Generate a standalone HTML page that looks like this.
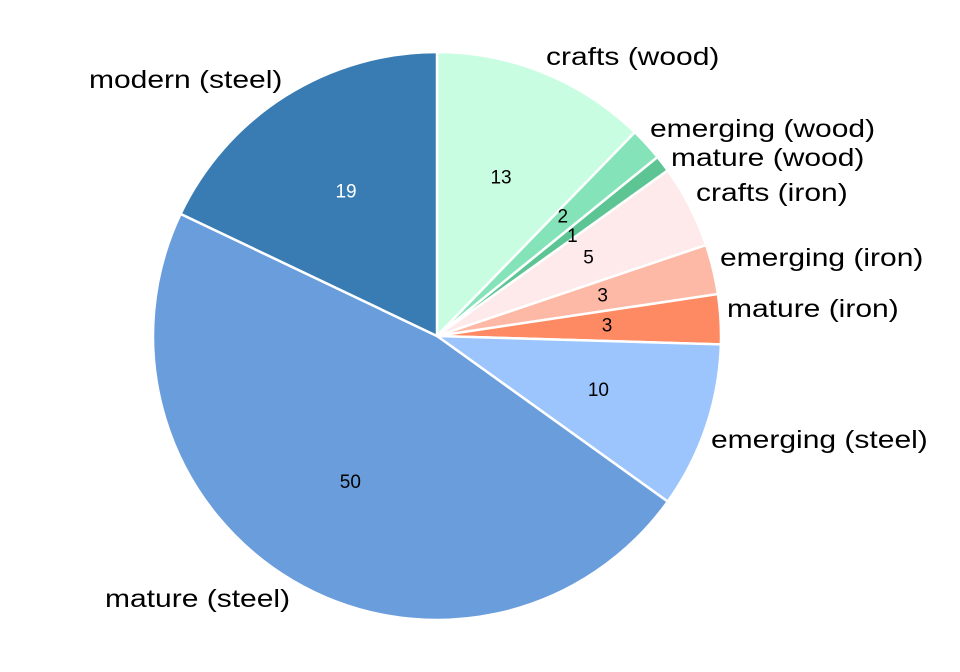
<!DOCTYPE html>
<html><head><meta charset="utf-8"><style>
html,body{margin:0;padding:0;background:#fff;}
svg{display:block;font-family:"Liberation Sans","DejaVu Sans",sans-serif;}
</style></head><body>
<svg id="chart" width="960" height="672" viewBox="0 0 960 672"></svg>
<script>
const categories = ["crafts (wood)","emerging (wood)","mature (wood)","crafts (iron)","emerging (iron)","mature (iron)","emerging (steel)","mature (steel)","modern (steel)"];
const values = [13,2,1,5,3,3,10,50,19];
const colors = ["#c8fde2","#84e3b8","#5cc593","#feeaea","#fdb8a6","#fd8a62","#9cc5fd","#699ddc","#387cb3"];
const labelTextColors = ["#000","#000","#000","#000","#000","#000","#000","#000","#fff"];
const outerLabelPos = [[546,57,"start"],[650,129,"start"],[671,158,"start"],[696,193,"start"],[720,258,"start"],[727,309,"start"],[711,440,"start"],[105,599,"start"],[89,80,"start"]];
const innerLabelOffsets = [[0,0],[0,-4],[0,4],[0,0],[0,0],[0,0],[0,0],[0,0],[0,0]];

const NS="http://www.w3.org/2000/svg";
const svg=document.getElementById("chart");
const cx=437, cy=336, R=284;
const total=values.reduce((a,b)=>a+b,0);
function pt(angle,r){return [cx+r*Math.sin(angle), cy-r*Math.cos(angle)];}
let cum=0;
values.forEach((v,i)=>{
  const a0=cum/total*2*Math.PI; cum+=v; const a1=cum/total*2*Math.PI;
  const p0=pt(a0,R), p1=pt(a1,R);
  const large=(a1-a0)>Math.PI?1:0;
  const path=document.createElementNS(NS,"path");
  path.setAttribute("d",`M${cx},${cy} L${p0[0]},${p0[1]} A${R},${R} 0 ${large} 1 ${p1[0]},${p1[1]} Z`);
  path.setAttribute("fill",colors[i]);
  path.setAttribute("stroke","#fff");
  path.setAttribute("stroke-width","2.5");
  
  
  svg.appendChild(path);
});
cum=0;
values.forEach((v,i)=>{
  const am=(cum+v/2)/total*2*Math.PI; cum+=v;
  const p=pt(am,R*0.6);
  const t=document.createElementNS(NS,"text");
  t.setAttribute("x",p[0]+innerLabelOffsets[i][0]);
  t.setAttribute("y",p[1]+innerLabelOffsets[i][1]);
  t.setAttribute("text-anchor","middle");
  t.setAttribute("dominant-baseline","central");
  t.setAttribute("font-size","19");
  t.setAttribute("fill",labelTextColors[i]);
  t.textContent=values[i];
  
  
  svg.appendChild(t);
  const o=outerLabelPos[i];
  const l=document.createElementNS(NS,"text");
  l.setAttribute("x",o[0]);l.setAttribute("y",o[1]);
  l.setAttribute("text-anchor",o[2]);
  l.setAttribute("dominant-baseline","central");
  l.setAttribute("font-size","25");
  l.setAttribute("fill","#000");
  l.textContent=categories[i];
  
  
  svg.appendChild(l);
  const len=l.getComputedTextLength();
  l.setAttribute("textLength", (len*1.2).toFixed(1));
  l.setAttribute("lengthAdjust","spacingAndGlyphs");
});
</script>
</body></html>
